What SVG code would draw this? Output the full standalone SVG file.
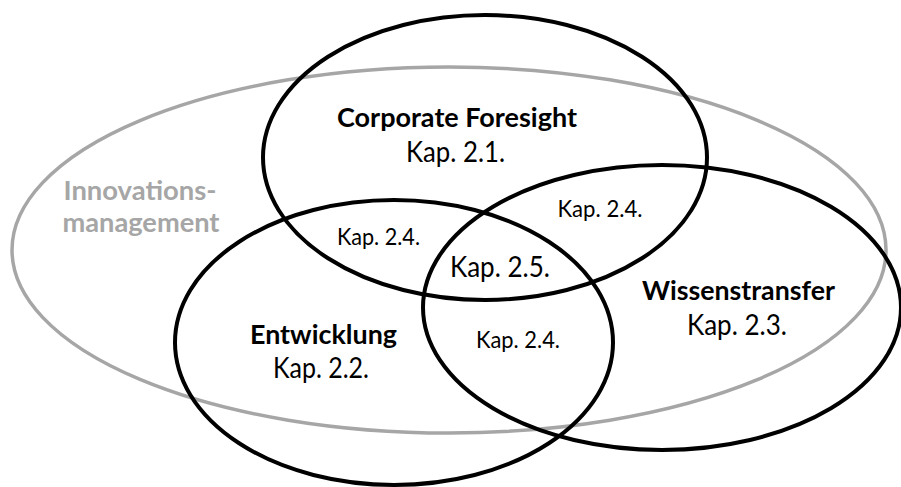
<svg xmlns="http://www.w3.org/2000/svg" width="901" height="487" viewBox="0 0 901 487">
<style>
.set{fill:none;stroke:#000;stroke-width:4}
.outer{fill:none;stroke:#a6a6a6;stroke-width:3.5}
text{font-family:Lato,"Open Sans","Liberation Sans",sans-serif;text-anchor:middle;fill:#000}
.b{font-weight:bold;font-size:26px}
.r{font-size:28px}
.s{font-size:23.5px}
.g{fill:#a6a6a6;font-weight:bold;font-size:27px}
</style>
<rect width="901" height="487" fill="#fff"/>
<g id="innovationsmanagement">
<ellipse class="outer" cx="449" cy="250" rx="437" ry="183"/>
<text class="g" x="140" y="200" textLength="153" lengthAdjust="spacingAndGlyphs">Innovations-</text>
<text class="g" x="141" y="232" textLength="157" lengthAdjust="spacingAndGlyphs">management</text>
</g>
<g id="corporate-foresight">
<ellipse class="set" cx="485" cy="157.5" rx="222" ry="142.5"/>
<text class="b" x="457" y="127" textLength="240" lengthAdjust="spacingAndGlyphs">Corporate Foresight</text>
<text class="r" x="455.5" y="162" textLength="99" lengthAdjust="spacingAndGlyphs">Kap. 2.1.</text>
</g>
<g id="entwicklung">
<ellipse class="set" cx="394" cy="342.5" rx="219" ry="142.5"/>
<text class="b" x="323.5" y="344" textLength="147" lengthAdjust="spacingAndGlyphs">Entwicklung</text>
<text class="r" x="321" y="378" textLength="96" lengthAdjust="spacingAndGlyphs">Kap. 2.2.</text>
</g>
<g id="wissenstransfer">
<ellipse class="set" cx="662" cy="307.5" rx="239" ry="142.5"/>
<text class="b" x="738.5" y="300" textLength="193" lengthAdjust="spacingAndGlyphs">Wissenstransfer</text>
<text class="r" x="737" y="335" textLength="100" lengthAdjust="spacingAndGlyphs">Kap. 2.3.</text>
</g>
<g id="overlaps">
<text class="s" x="378.5" y="245" textLength="83" lengthAdjust="spacingAndGlyphs">Kap. 2.4.</text>
<text class="s" x="600" y="217" textLength="85" lengthAdjust="spacingAndGlyphs">Kap. 2.4.</text>
<text class="s" x="518" y="348" textLength="84" lengthAdjust="spacingAndGlyphs">Kap. 2.4.</text>
<text class="r" x="500" y="277" textLength="100" lengthAdjust="spacingAndGlyphs">Kap. 2.5.</text>
</g>
<g id="connectors"></g>
</svg>
